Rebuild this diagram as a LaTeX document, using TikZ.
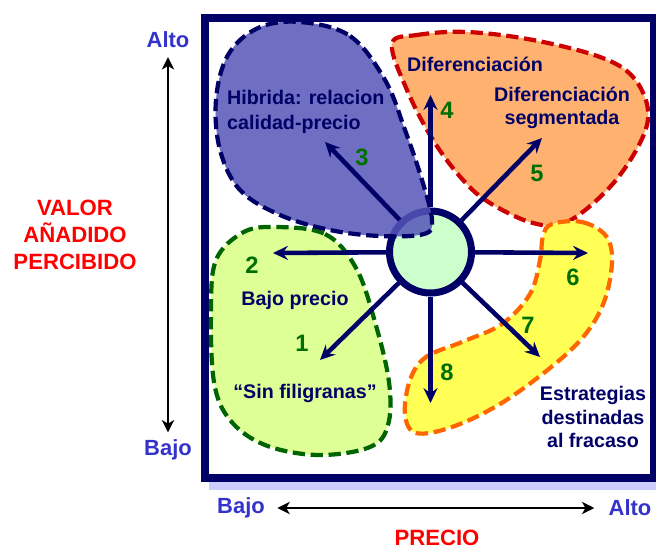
\documentclass[tikz,border=0pt]{standalone}
\usepackage{fontspec}
\setmainfont{Liberation Sans}
\usetikzlibrary{arrows.meta,positioning}
\definecolor{navy}{RGB}{0,0,102}
\definecolor{numgreen}{RGB}{0,110,0}
\definecolor{axblue}{RGB}{51,51,204}
\definecolor{shadowblue}{RGB}{204,204,255}
\definecolor{hubgreen}{RGB}{204,255,204}
\definecolor{hybfill}{RGB}{85,85,185}
\definecolor{diffill}{RGB}{255,178,112}
\definecolor{difline}{RGB}{204,0,0}
\definecolor{failfill}{RGB}{255,255,85}
\definecolor{failline}{RGB}{255,102,0}
\definecolor{cheapfill}{RGB}{222,255,150}
\definecolor{cheapline}{RGB}{0,100,0}

\begin{document}
\begin{tikzpicture}[x=0.02cm,y=-0.02cm,
  lbl/.style={text=navy,align=center,font=\bfseries\fontsize{11.2}{13.4}\selectfont},
  num/.style={text=numgreen,font=\bfseries\fontsize{13.5}{16}\selectfont},
  axlbl/.style={text=axblue,inner sep=0pt,font=\bfseries\fontsize{12.5}{15}\selectfont},
  axtitle/.style={text=red,align=center,font=\bfseries\fontsize{12.6}{15.4}\selectfont},
  blob/.style={line width=2.4pt,dash pattern=on 7pt off 3.2pt},
  spoke/.style={draw=navy,line width=2.6pt,-{Stealth[length=8.5pt,width=8pt,inset=3pt]}},
  axarrow/.style={draw=black,line width=1.1pt,{Stealth[length=7pt,width=7pt,inset=2pt]}-{Stealth[length=7pt,width=7pt,inset=2pt]}}]

  \useasboundingbox (0,0) rectangle (656,548);

  % frame
  \fill[shadowblue] (209,26) rectangle (664,490);
  \draw[navy,line width=4.5pt,fill=white] (205,18) rectangle (654,478);

  % blobs
  \draw[blob,draw=difline,fill=diffill] plot[smooth cycle,tension=0.6] coordinates {
    (392,44) (417,35) (467,32) (533,40) (600,57) (633,77) (648,110) (640,143)
    (610,187) (567,222) (533,223) (490,203) (463,180) (433,140) (407,90)};
  \draw[blob,draw=failline,fill=failfill] plot[smooth cycle,tension=0.6] coordinates {
    (552,224) (582,222) (606,236) (612,262) (604,302) (584,336) (550,368)
    (500,404) (452,427) (416,433) (405,414) (410,380) (426,357) (462,342)
    (502,324) (530,294) (540,260) (543,236)};
  \draw[blob,draw=cheapline,fill=cheapfill] plot[smooth cycle,tension=0.6] coordinates {
    (273,227) (325,234) (356,268) (375,322) (389,382) (388,425) (370,447)
    (318,455) (265,445) (230,420) (214,382) (211,310) (216,260) (242,233)};

  % centro
  \node[circle,draw=navy,line width=4pt,fill=hubgreen,minimum size=1.64cm,inner sep=0pt] (hub) at (430.5,252) {};

  \draw[blob,draw=navy,fill=hybfill,fill opacity=0.85] plot[smooth cycle,tension=0.6] coordinates {
    (300,22) (350,36) (385,80) (405,130) (422,180) (432,220) (424,234)
    (380,236) (330,230) (280,215) (240,190) (220,150) (216,100) (228,55) (258,28)};

  \coordinate (t1) at (320,360);
  \coordinate (t2) at (273,253);
  \coordinate (t3) at (325,142);
  \coordinate (t4) at (430.5,95);
  \coordinate (t5) at (542,138);
  \coordinate (t6) at (588,253);
  \coordinate (t7) at (540,357);
  \coordinate (t8) at (430.5,403);

  \path[spoke]
  (hub) edge (t1) edge (t2) edge (t3) edge (t4)
  (hub) edge (t5) edge (t6) edge (t7) edge (t8);

  % numeros
  \node[num] (n1) at (302,343) {1};
  \node[num] (n2) at (252,265) {2};
  \node[num] (n3) at (362,157) {3};
  \node[num] (n4) at (447,110) {4};
  \node[num] (n5) at (537,173) {5};
  \node[num] (n6) at (573,277) {6};
  \node[num] (n7) at (528,325) {7};
  \node[num] (n8) at (447,372) {8};

  % estrategias
  \node[lbl] (dif) at (475,64) {Diferenciación};
  \node[lbl] (difseg) at (562,108) {Diferenciación\\segmentada};
  \node[lbl,align=left,anchor=west,font=\bfseries\fontsize{11.2}{14.2}\selectfont] (hib) at (221,112) {Hibrida: relacion\\calidad-precio};
  \node[lbl] (bajoprecio) at (295,300) {Bajo precio};
  \node[lbl] (sinfil) at (305,393) {“Sin filigranas”};
  \node[lbl] (fracaso) at (593,417) {Estrategias\\destinadas\\al fracaso};

  % ejes
  \node[axlbl] (altoV) at (168,40) {Alto};
  \node[axlbl] (bajoV) at (168,450) {Bajo};
  \node[axlbl] (bajoH) at (241,508) {Bajo};
  \node[axlbl] (altoH) at (630,508) {Alto};
  \node[axtitle] (valor) at (75,235) {VALOR\\AÑADIDO\\PERCIBIDO};
  \node[axtitle] (precio) at (437,538) {PRECIO};

  \path[axarrow]
  (altoV) edge[shorten <=5pt,shorten >=4pt] (bajoV)
  (bajoH) edge[shorten <=7pt,shorten >=8pt] (altoH);
\end{tikzpicture}
\end{document}
